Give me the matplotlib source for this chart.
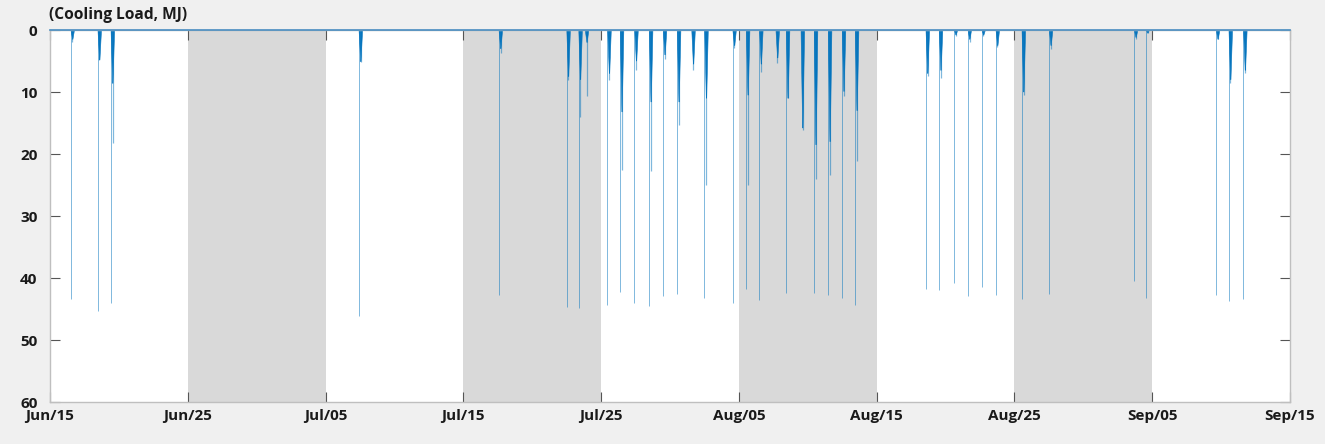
import matplotlib
matplotlib.use("Agg")
import matplotlib.pyplot as plt
import numpy as np

# ---- data ----
date_labels = ["Jun/15", "Jun/25", "Jul/05", "Jul/15", "Jul/25",
               "Aug/05", "Aug/15", "Aug/25", "Sep/05", "Sep/15"]
shaded_periods = [("Jun/25", "Jul/05"), ("Jul/15", "Jul/25"),
                  ("Aug/05", "Aug/15"), ("Aug/25", "Sep/05")]
yticks_vals = [0, 10, 20, 30, 40, 50, 60]

# event position (in 10-day tick units from Jun/15), start-up peak, daytime body load, light tail load
event_pos = [1.50, 3.46, 4.41, 22.41, 32.57, 37.49, 38.36, 38.83, 40.46, 41.37,
             42.42, 43.48, 44.49, 45.51, 46.56, 47.50, 49.54, 50.52, 51.48, 52.67,
             53.42, 54.49, 55.45, 56.47, 57.48, 58.43, 63.56, 64.52, 65.61, 66.61,
             67.62, 68.64, 70.53, 72.51, 78.68, 79.53, 84.63, 85.55, 86.61]
peak_load = [43.4, 45.4, 44.0, 46.1, 42.7, 44.6, 44.9, 0.0, 44.4, 42.2,
             44.1, 44.5, 42.9, 42.5, 0.0, 43.3, 44.0, 41.7, 43.5, 0.0,
             42.4, 0.0, 42.4, 42.7, 43.3, 44.4, 41.7, 41.9, 40.8, 42.9,
             41.5, 42.7, 43.4, 42.6, 40.5, 43.2, 42.7, 43.7, 43.4]
body_load = [1.5, 4.8, 8.6, 5.1, 3.0, 7.5, 8.0, 2.0, 7.0, 13.2,
             5.0, 11.6, 4.0, 11.6, 5.5, 11.0, 2.5, 10.5, 5.5, 4.5,
             11.0, 15.8, 18.5, 18.0, 9.9, 13.0, 7.0, 6.5, 0.8, 1.5,
             0.8, 2.5, 10.0, 2.5, 1.2, 0.5, 1.5, 8.0, 6.5]
tail_load = [2.0, 4.8, 18.3, 5.1, 3.7, 8.0, 14.0, 10.7, 8.1, 22.6,
             6.5, 22.8, 4.6, 15.3, 6.5, 25.0, 2.9, 25.0, 6.7, 5.4,
             11.0, 16.1, 24.0, 23.4, 10.7, 21.2, 7.5, 7.8, 1.0, 2.0,
             1.0, 2.7, 10.5, 3.0, 1.5, 0.5, 1.5, 8.6, 7.0]

# ---- style ----
plt.rcParams['font.family'] = ['Open Sans', 'DejaVu Sans']
blue = '#0072BD'

fig = plt.figure(figsize=(13.25, 4.44), dpi=100, facecolor='#f0f0f0')
ax = fig.add_axes([50/1325, 1 - 402/444, 1240/1325, 372/444])
ax.set_facecolor('white')

tick_pos = np.arange(len(date_labels)) * 10.0
pos_of = dict(zip(date_labels, tick_pos))

for a, b in shaded_periods:
    ax.axvspan(pos_of[a], pos_of[b], color='#d9d9d9', lw=0, zorder=0)

# baseline (zero load)
ax.plot([tick_pos[0], tick_pos[-1]], [0, 0], color='#4a8ec2', lw=1.2, zorder=3, clip_on=False)

ev = np.array(event_pos)
pk = np.array(peak_load)
bd = np.array(body_load)
tl = np.array(tail_load)
has_peak = pk > 0
ax.vlines(ev[has_peak], 0, pk[has_peak], color=blue, lw=0.7, alpha=0.5, zorder=2)
ax.vlines(ev + 0.13, 0, tl, color=blue, lw=0.9, alpha=0.5, zorder=2)
bw = 0.26  # body width in axis units
for x, d in zip(ev, bd):
    ax.fill([x + 0.02, x + 0.02 + bw, x + 0.02 + bw * 0.55, x + 0.02 + bw * 0.45],
            [0, 0, d, d], color=blue, lw=0.4, ec=blue, alpha=0.95, zorder=2)

ax.set_xlim(tick_pos[0], tick_pos[-1])
ax.set_ylim(60, 0)
ax.set_xticks(tick_pos)
ax.set_xticklabels(date_labels)
ax.set_yticks(yticks_vals)
ax.set_yticklabels([str(v) for v in yticks_vals])

for lab in ax.get_xticklabels() + ax.get_yticklabels():
    lab.set_fontweight('bold')
    lab.set_fontsize(11)
    lab.set_color('#1a1a1a')

ax.tick_params(axis='both', direction='in', length=7, width=0.8, color='#555555',
               top=True, right=True, pad=5)
ax.tick_params(axis='y', pad=9)
for s in ax.spines.values():
    s.set_color('#bfbfbf')
    s.set_linewidth(1.0)

fig.text(49/1325, 1 - 15/444, "(Cooling Load, MJ)", fontsize=11.2, fontweight='bold',
         color='#1a1a1a', ha='left', va='center')

fig.savefig("out.png", dpi=100, facecolor=fig.get_facecolor())
